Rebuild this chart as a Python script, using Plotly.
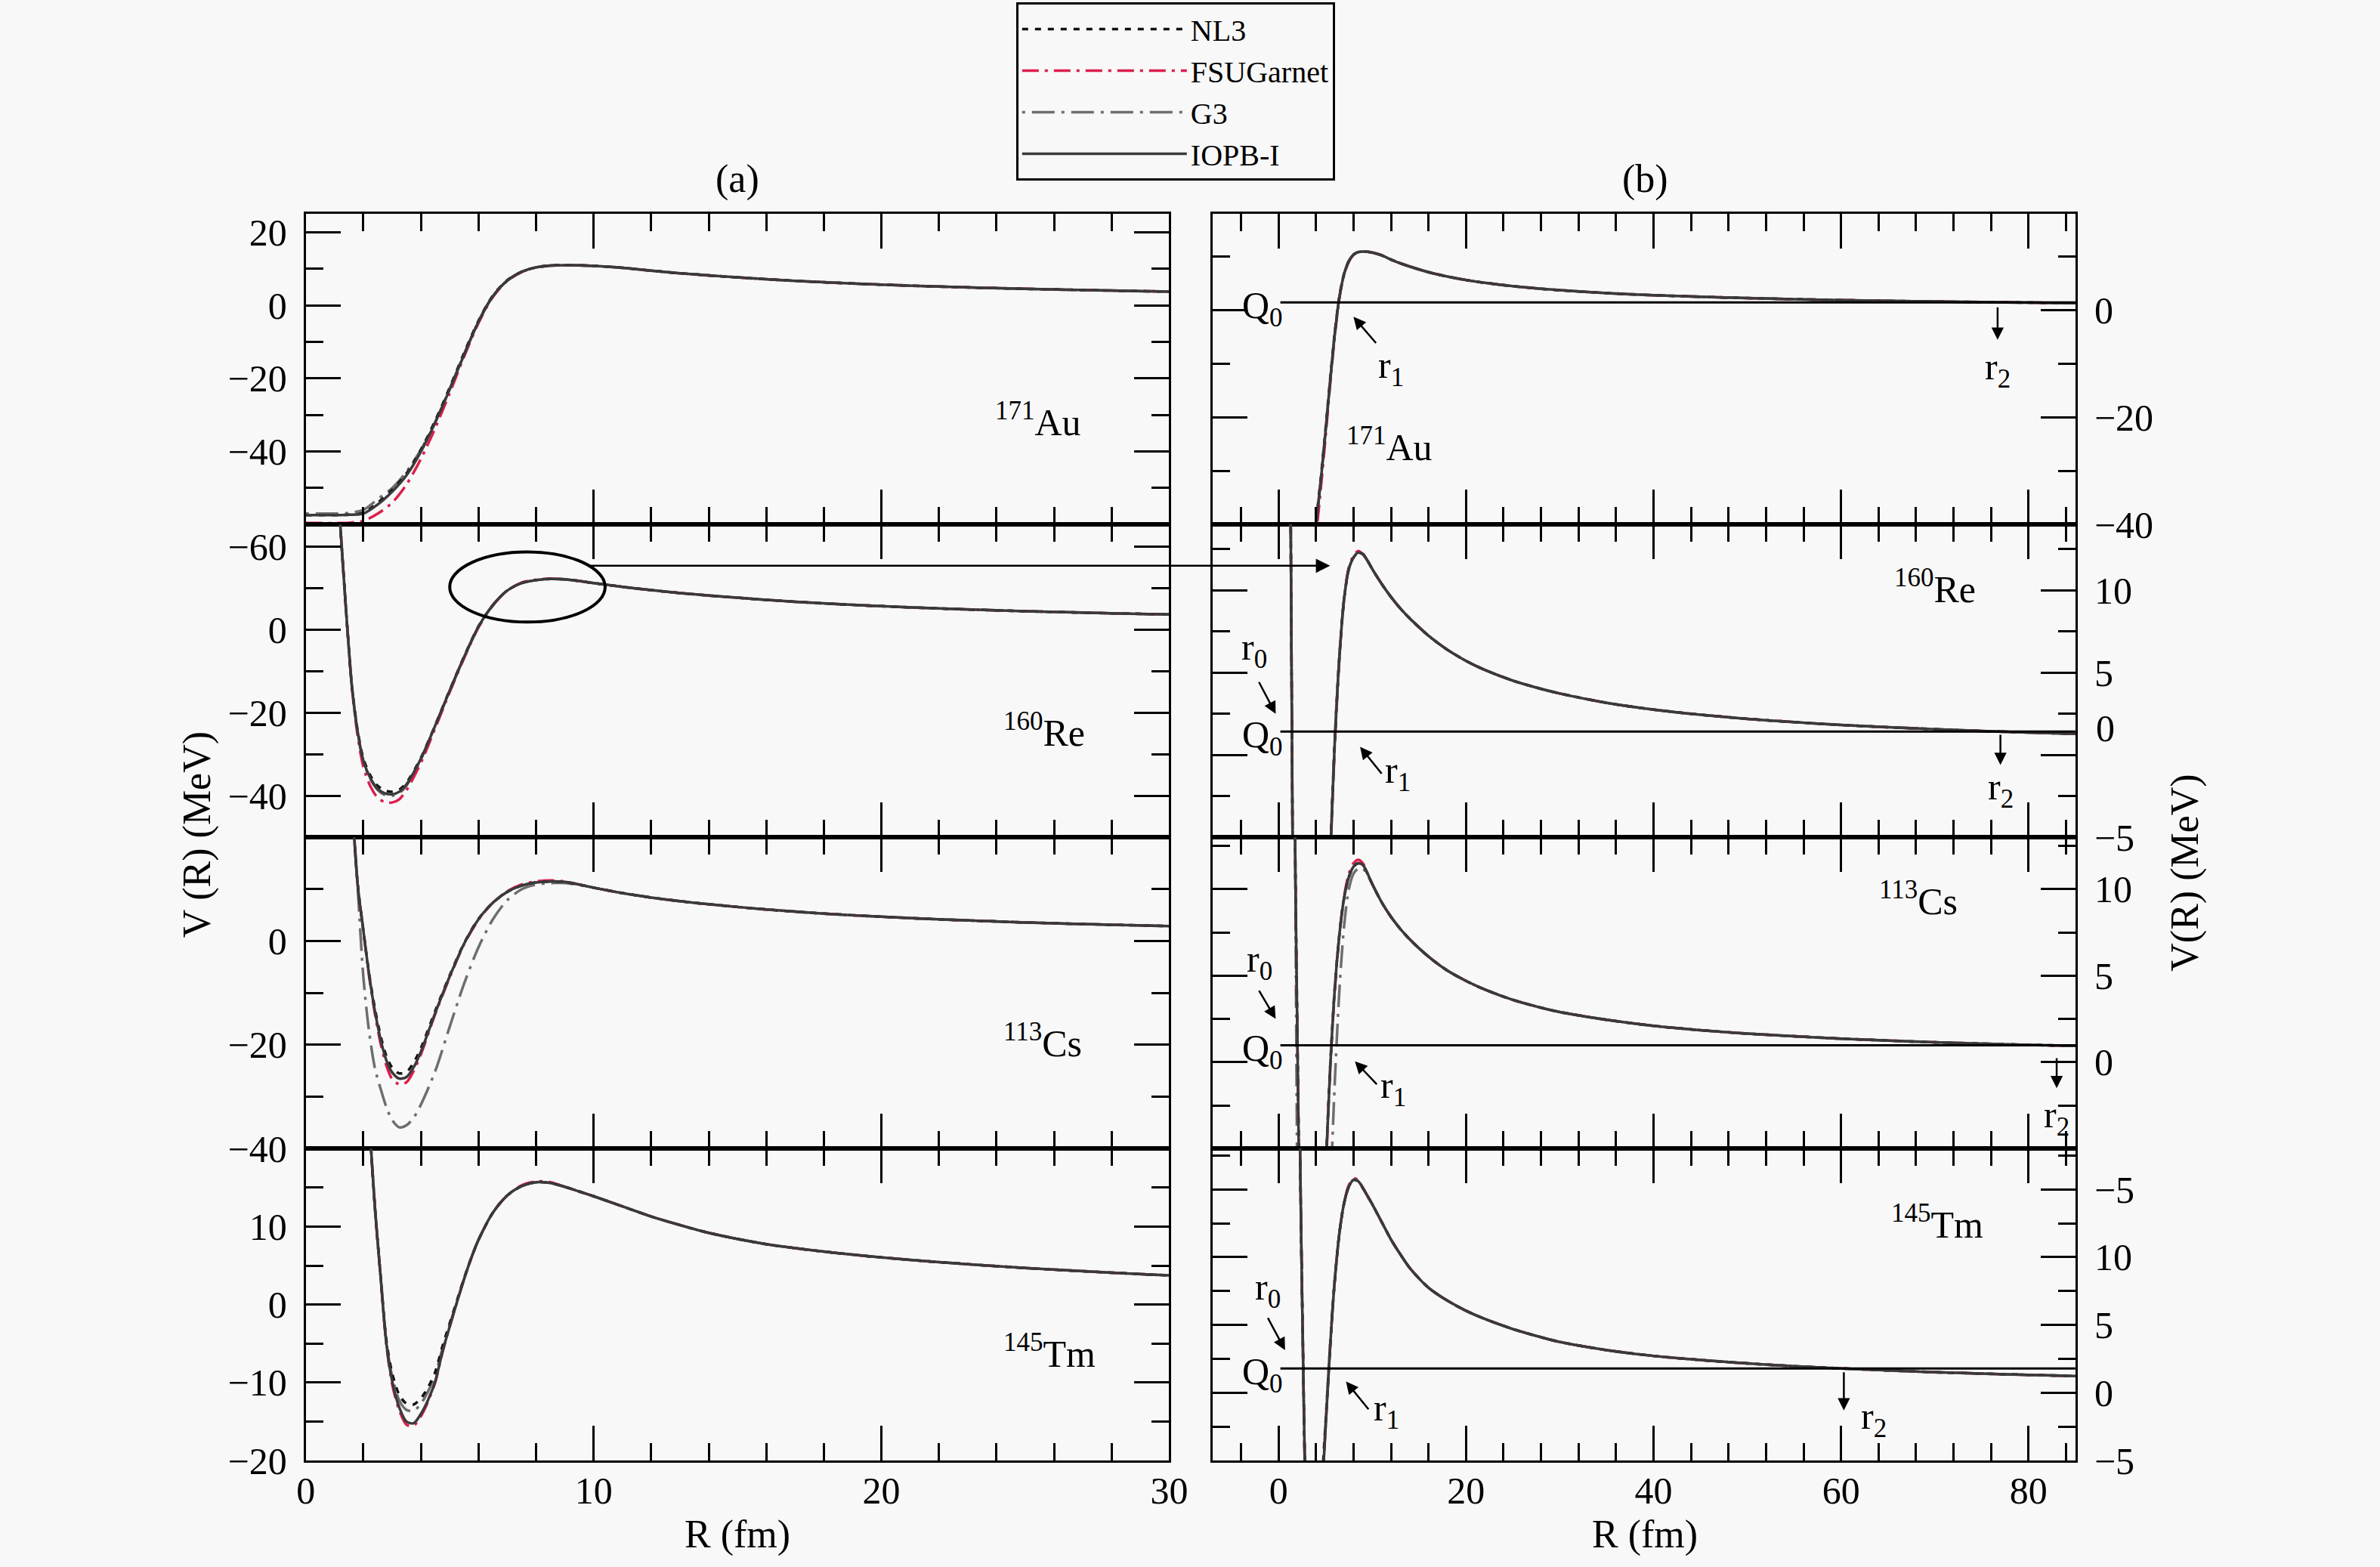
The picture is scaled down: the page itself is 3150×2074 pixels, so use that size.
import plotly.graph_objects as go

# ---------------- data ----------------
MODELS = ["NL3", "FSUGarnet", "G3", "IOPB-I"]
NUCLEUS_LABELS = ["<sup>171</sup>Au", "<sup>160</sup>Re", "<sup>113</sup>Cs", "<sup>145</sup>Tm"]

R_TAIL = [10, 11, 12, 13, 14, 16, 18, 20, 22, 25, 28, 30, 35, 40, 45, 50, 55, 60, 65, 70, 75, 80, 85]
AU_TAIL = [10.8, 10.3, 9.5, 8.8, 8.2, 7.15, 6.33, 5.68, 5.15, 4.53, 4.05, 3.78, 3.24, 2.84, 2.55, 2.3, 2.1, 1.92, 1.78, 1.66, 1.55, 1.46, 1.37]
RE_TAIL = [11.3, 10.4, 9.6, 8.9, 8.3, 7.25, 6.4, 5.72, 5.17, 4.52, 4.02, 3.74, 3.17, 2.76, 2.45, 2.2, 2.0, 1.83, 1.69, 1.57, 1.46, 1.37, 1.29]
CS_TAIL = [10.3, 9.25, 8.4, 7.7, 7.1, 6.1, 5.3, 4.7, 4.2, 3.6, 3.15, 2.9, 2.45, 2.1, 1.85, 1.65, 1.5, 1.36, 1.25, 1.15, 1.07, 1.0, 0.94]
TM_TAIL = [13.9, 12.6, 11.3, 10.2, 9.2, 7.75, 6.8, 6.05, 5.45, 4.7, 4.1, 3.75, 3.15, 2.72, 2.42, 2.17, 1.96, 1.8, 1.65, 1.52, 1.42, 1.32, 1.24]

AU_R = [0, 0.5, 1.0, 1.5, 2.0, 2.5, 3.0, 3.5, 4.0, 4.5, 5.0, 5.5, 6.0, 6.5, 7.0, 7.5, 8.0, 8.5, 9.0, 9.5]
AU_NL3 = [-57.4, -57.4, -57.4, -57.3, -56.8, -54.0, -50.5, -46.0, -39.5, -31.5, -22.5, -13.0, -4.2, 2.7, 6.9, 9.2, 10.4, 10.9, 11.0, 10.95]
AU_FSU = [-59.6, -59.6, -59.6, -59.5, -59.0, -57.0, -54.0, -49.0, -42.0, -33.5, -24.0, -14.0, -4.8, 2.3, 6.7, 9.1, 10.4, 10.9, 11.0, 10.95]
AU_G3 = [-57.0, -57.0, -57.0, -56.8, -56.0, -53.0, -50.0, -45.5, -39.5, -31.8, -22.8, -13.3, -4.3, 2.6, 6.8, 9.2, 10.4, 10.9, 11.0, 10.95]
AU_IOPB = [-57.4, -57.4, -57.4, -57.3, -57.0, -54.5, -51.0, -46.5, -40.0, -32.0, -23.0, -13.5, -4.5, 2.5, 6.8, 9.2, 10.4, 10.9, 11.0, 10.95]

RE_R = [0.8, 1.0, 1.2, 1.3, 1.4, 1.5, 1.6, 1.8, 2.0, 2.25, 2.5, 2.75, 3.0, 3.25, 3.5, 4.0, 4.5, 5.0, 5.5, 6.0, 6.5, 7.0, 7.5, 8.0, 8.5, 9.0, 9.5]
RE_NL3 = [70, 48, 25, 14.5, 4.5, -5.0, -13.5, -24.3, -31.0, -35.2, -37.6, -38.7, -39.0, -38.5, -36.8, -30.8, -22.9, -14.5, -6.4, 0.9, 6.0, 9.5, 11.3, 12.0, 12.3, 12.2, 11.8]
RE_FSU = [70, 48, 25, 14.5, 4.5, -5.0, -13.8, -25.5, -33.0, -37.8, -40.5, -41.5, -41.6, -40.8, -38.6, -32.0, -23.6, -15.0, -6.8, 0.6, 5.9, 9.5, 11.4, 12.1, 12.4, 12.2, 11.8]
RE_G3 = [70, 48, 25, 14.5, 4.5, -5.0, -13.6, -24.8, -31.8, -36.0, -38.6, -39.8, -40.0, -39.3, -37.5, -31.2, -23.1, -14.7, -6.6, 0.7, 6.0, 9.5, 11.3, 12.0, 12.3, 12.2, 11.8]
RE_IOPB = [70, 48, 25, 14.5, 4.5, -5.0, -13.5, -24.5, -31.5, -35.8, -38.3, -39.4, -39.6, -39.0, -37.2, -31.0, -23.0, -14.6, -6.5, 0.8, 6.0, 9.5, 11.3, 12.0, 12.3, 12.2, 11.8]

CS_R = [1.2, 1.4, 1.6, 1.8, 2.0, 2.2, 2.4, 2.6, 2.8, 3.0, 3.25, 3.5, 3.75, 4.0, 4.5, 5.0, 5.5, 6.0, 6.5, 7.0, 7.5, 8.0, 8.5, 9.0, 9.5]
CS_NL3 = [80, 55, 28, 11.0, 2.0, -6.3, -13.0, -18.3, -22.2, -24.4, -25.5, -25.2, -23.4, -20.6, -13.4, -6.6, -0.4, 4.3, 7.4, 9.5, 10.7, 11.3, 11.5, 11.4, 10.9]
CS_FSU = [80, 55, 28, 11.0, 2.0, -6.8, -14.0, -19.8, -24.0, -26.6, -27.6, -27.2, -25.0, -21.8, -14.0, -7.0, -0.6, 4.1, 7.4, 9.6, 10.9, 11.5, 11.7, 11.5, 10.9]
CS_G3 = [80, 55, 28, 10.5, -7.0, -17.5, -24.5, -28.5, -32.0, -34.5, -35.9, -35.5, -34.0, -31.5, -25.0, -16.5, -8.2, -1.2, 4.2, 7.9, 10.0, 10.9, 11.2, 11.2, 10.8]
CS_IOPB = [80, 55, 28, 11.0, 2.0, -6.5, -13.5, -19.0, -23.0, -25.3, -26.5, -26.2, -24.3, -21.3, -13.8, -6.8, -0.5, 4.2, 7.4, 9.5, 10.7, 11.3, 11.5, 11.4, 10.9]

TM_R = [1.8, 2.0, 2.2, 2.4, 2.6, 2.8, 3.0, 3.25, 3.5, 3.75, 4.0, 4.25, 4.5, 4.75, 5.0, 5.25, 5.5, 5.75, 6.0, 6.5, 7.0, 7.5, 8.0, 8.5, 9.0, 9.5]
TM_NL3 = [55, 38, 24, 12.5, 3.6, -4.6, -8.8, -11.6, -12.7, -12.8, -12.0, -10.6, -8.6, -5.3, -2.4, 0.5, 3.4, 6.0, 8.3, 11.8, 14.0, 15.2, 15.7, 15.6, 15.1, 14.5]
TM_FSU = [55, 38, 24, 12.5, 3.5, -5.2, -10.2, -13.6, -15.4, -15.5, -14.3, -12.4, -9.9, -6.1, -2.8, 0.3, 3.3, 6.0, 8.3, 11.8, 14.0, 15.3, 15.8, 15.7, 15.1, 14.5]
TM_G3 = [55, 38, 24, 12.5, 3.6, -4.8, -9.2, -12.3, -13.5, -13.6, -12.7, -11.1, -9.0, -5.6, -2.6, 0.4, 3.3, 6.0, 8.3, 11.8, 14.0, 15.2, 15.7, 15.6, 15.1, 14.5]
TM_IOPB = [55, 38, 24, 12.5, 3.5, -5.0, -9.8, -13.2, -15.0, -15.2, -14.0, -12.2, -9.8, -6.0, -2.8, 0.3, 3.3, 6.0, 8.3, 11.8, 14.0, 15.2, 15.7, 15.6, 15.1, 14.5]

Q_VALUES = [1.5, 1.43, 0.98, 1.8]
Q_LINE_R = [0.2, 85]

# ---------------- assembly ----------------
NUC_R = [AU_R, RE_R, CS_R, TM_R]
NUC_TAIL = [AU_TAIL, RE_TAIL, CS_TAIL, TM_TAIL]
NUC_V = [
    {"NL3": AU_NL3, "FSUGarnet": AU_FSU, "G3": AU_G3, "IOPB-I": AU_IOPB},
    {"NL3": RE_NL3, "FSUGarnet": RE_FSU, "G3": RE_G3, "IOPB-I": RE_IOPB},
    {"NL3": CS_NL3, "FSUGarnet": CS_FSU, "G3": CS_G3, "IOPB-I": CS_IOPB},
    {"NL3": TM_NL3, "FSUGarnet": TM_FSU, "G3": TM_G3, "IOPB-I": TM_IOPB},
]

FONT = "Liberation Serif"
STYLE = {
    "NL3": dict(color="#111111", dash="8px,9px", rank=1),
    "FSUGarnet": dict(color="#dc1f4b", dash="22px,8px,4px,8px", rank=2),
    "G3": dict(color="#6e6e6e", dash="4px,9px,30px,9px", rank=3),
    "IOPB-I": dict(color="#3a3a3a", dash="solid", rank=4),
}
DRAW_ORDER = ["G3", "FSUGarnet", "NL3", "IOPB-I"]

W, H = 3150, 2074
# page photographed slightly scaled: compensate positions measured on the reference
SX, OX, SY, OY = 0.990, 9.4, 0.987, 0.0


def fx(p):
    return (p - OX) / SX / W


def fy(p):
    return 1 - (p - OY) / SY / H


X_DOM = [[fx(402), fx(1547)], [fx(1605), fx(2749)]]
Y_EDGES = [281, 693, 1108, 1521, 1935]
Y_DOMS = [[fy(Y_EDGES[k + 1]), fy(Y_EDGES[k])] for k in range(4)]

fig = go.Figure()

for k in range(4):
    for side in range(2):
        ax = k + 1 + 4 * side
        for m in DRAW_ORDER:
            st = STYLE[m]
            fig.add_trace(go.Scatter(
                x=NUC_R[k] + R_TAIL,
                y=NUC_V[k][m] + NUC_TAIL[k],
                mode="lines",
                line=dict(color=st["color"], width=3.5, dash=st["dash"], shape="spline", smoothing=0.8),
                name=m, legendrank=st["rank"], legendgroup=m,
                showlegend=(k == 0 and side == 0),
                xaxis=f"x{ax}", yaxis=f"y{ax}",
                hoverinfo="skip",
            ))
    # Q0 line on right panel
    fig.add_trace(go.Scatter(
        x=Q_LINE_R, y=[Q_VALUES[k], Q_VALUES[k]], mode="lines",
        line=dict(color="black", width=3), showlegend=False,
        xaxis=f"x{k + 5}", yaxis=f"y{k + 5}", hoverinfo="skip"))

TICKFONT = dict(family=FONT, size=50, color="black")


def axis_common():
    return dict(showline=True, linecolor="black", linewidth=3, mirror="ticks",
                ticks="inside", ticklen=46, tickwidth=3, tickcolor="black",
                showgrid=False, zeroline=False, tickfont=TICKFONT)


# y-axis tick specs: (range, tickvals, ticktext, minor vals)
Y_SPECS = [
    ([-60, 25], [-40, -20, 0, 20], ["\u221240", "\u221220", "0", "20"], [-50, -30, -10, 10]),
    ([-50, 25.4], [-40, -20, 0, 20], ["\u221240", "\u221220", "0", "\u221260"], [-30, -10, 10]),
    ([-40, 20], [-40, -20, 0], ["\u221240", "\u221220", "0"], [-30, -10, 10]),
    ([-20, 20], [-20, -10, 0, 10], ["\u221220", "\u221210", "0", "10"], [-15, -5, 5, 15]),
    ([-40, 18], [-40, -20, 0], ["\u221240", "\u221220", "0"], [-30, -10, 10]),
    ([-5, 14], [-5, 0, 5, 10], ["\u22125", "", "5", "10"], [-2.5, 2.5, 7.5, 12.5]),
    ([-5, 13], [-5, 0, 5, 10], ["", "0", "5", "10"], [-2.5, 2.5, 7.5, 12.5]),
    ([-5, 18], [-5, 0, 5, 10, 15], ["\u22125", "0", "5", "10", "\u22125"], [-2.5, 2.5, 7.5, 12.5, 17.5]),
]

layout = dict(
    width=W, height=H, autosize=False,
    margin=dict(l=0, r=0, t=0, b=0),
    paper_bgcolor="#f8f8f8", plot_bgcolor="#f8f8f8",
    font=dict(family=FONT, size=50, color="black"),
    showlegend=True,
    legend=dict(x=fx(1344), y=1.0, xanchor="left", yanchor="top",
                bordercolor="black", borderwidth=3, bgcolor="rgba(0,0,0,0)",
                font=dict(family=FONT, size=40, color="black"),
                traceorder="grouped", tracegroupgap=0, itemwidth=218),
)

for i in range(8):
    ax = i + 1
    side = i // 4
    k = i % 4
    xa = axis_common()
    if side == 0:
        xa.update(range=[0, 30], tickmode="linear", tick0=0, dtick=10,
                  minor=dict(ticks="inside", ticklen=23, tickwidth=3, tickcolor="black", dtick=2, tick0=0))
    else:
        xa.update(range=[-7, 85], tickmode="array", tickvals=[0, 20, 40, 60, 80],
                  minor=dict(ticks="inside", ticklen=23, tickwidth=3, tickcolor="black", dtick=4, tick0=0))
    xa.update(domain=X_DOM[side], anchor=f"y{ax}", showticklabels=(k == 3), ticklabelstandoff=-6)
    rng, tv, tt, mv = Y_SPECS[i]
    ya = axis_common()
    ya.update(range=rng, tickmode="array", tickvals=tv, ticktext=tt,
              minor=dict(ticks="inside", ticklen=23, tickwidth=3, tickcolor="black",
                         tickmode="array", tickvals=mv),
              domain=Y_DOMS[k], anchor=f"x{ax}", side="left" if side == 0 else "right",
              ticklabelstandoff=12)
    layout["xaxis" if ax == 1 else f"xaxis{ax}"] = xa
    layout["yaxis" if ax == 1 else f"yaxis{ax}"] = ya

fig.update_layout(**layout)

ann = []


def txt(text, x, y, xref="paper", yref="paper", size=50, xanchor="center", yanchor="middle", angle=0, yshift=0):
    ann.append(dict(text=text, x=x, y=y, xref=xref, yref=yref, showarrow=False,
                    font=dict(family=FONT, size=size, color="black"),
                    xanchor=xanchor, yanchor=yanchor, textangle=angle, yshift=yshift))


def arrow(x, y, axv, ayv, ref, head=2, size=1.3, width=2.5):
    ann.append(dict(text="", x=x, y=y, ax=axv, ay=ayv, xref=f"x{ref}", yref=f"y{ref}",
                    axref=f"x{ref}", ayref=f"y{ref}", showarrow=True, arrowhead=head,
                    arrowsize=size, arrowwidth=width, arrowcolor="black"))


# panel letters and axis titles
txt("(a)", fx(974), fy(235), size=52)
txt("(b)", fx(2178), fy(235), size=52)
txt("R (fm)", fx(974), fy(2033), size=52)
txt("R (fm)", fx(2178), fy(2033), size=52)
txt("V (R) (MeV)", fx(258), fy(1105), size=52, angle=-90)
txt("V(R) (MeV)", fx(2895), fy(1155), size=52, angle=-90)
# misplaced "0" tick label of panel (b) 160Re
txt("0", fx(2774), 1.6, yref="y6", xanchor="left")

# nucleus labels
LEFT_POS = [(23.9, -31.3), (24.2, -24.2), (24.2, -19.2), (24.2, -6.0)]
RIGHT_POS = [(7.1, -25.1), (65.5, 10.25), (63.9, 9.47), (65.2, 12.56)]
for k in range(4):
    txt(NUCLEUS_LABELS[k], LEFT_POS[k][0], LEFT_POS[k][1], xref=f"x{k + 1}", yref=f"y{k + 1}", xanchor="left")
    txt(NUCLEUS_LABELS[k], RIGHT_POS[k][0], RIGHT_POS[k][1], xref=f"x{k + 5}", yref=f"y{k + 5}", xanchor="left")
    txt("Q<sub>0</sub>", 0.6, Q_VALUES[k], xref=f"x{k + 5}", yref=f"y{k + 5}", xanchor="right", yshift=-8)

# r1 arrows & labels
R1 = [((8.0, -1.2), (10.5, -6.3), (12.0, -10.8)),
      ((8.7, 0.5), (11.1, -1.2), (12.7, -1.1)),
      ((8.15, 0.05), (10.6, -1.35), (12.2, -1.5)),
      ((7.2, 0.83), (9.7, -1.3), (11.5, -1.3))]
for k, (tip, tail, labp) in enumerate(R1):
    arrow(tip[0], tip[1], tail[0], tail[1], k + 5)
    txt("r<sub>1</sub>", labp[0], labp[1], xref=f"x{k + 5}", yref=f"y{k + 5}")
# r2 arrows & labels
R2 = [((76.7, -5.5), (76.7, 0.8), (76.7, -11.0)),
      ((77.0, -0.6), (77.0, 1.3), (77.0, -2.1)),
      ((83.0, -1.5), (83.0, 0.3), (83.0, -3.2)),
      ((60.3, -1.3), (60.3, 1.6), (63.5, -1.9))]
for k, (tip, tail, labp) in enumerate(R2):
    arrow(tip[0], tip[1], tail[0], tail[1], k + 5)
    txt("r<sub>2</sub>", labp[0], labp[1], xref=f"x{k + 5}", yref=f"y{k + 5}")
# r0 arrows & labels
R0 = {6: ((-0.3, 2.5), (-2.15, 4.5), (-2.6, 6.4)),
      7: ((-0.3, 2.5), (-2.15, 4.2), (-2.0, 5.8)),
      8: ((0.7, 3.15), (-1.2, 5.6), (-1.1, 7.6))}
for ref, (tip, tail, labp) in R0.items():
    arrow(tip[0], tip[1], tail[0], tail[1], ref)
    txt("r<sub>0</sub>", labp[0], labp[1], xref=f"x{ref}", yref=f"y{ref}")

# long arrow from ellipse (a) to panel (b) 160Re
ann.append(dict(text="", x=5.5, y=11.5, xref="x6", yref="y6", axref="pixel", ayref="pixel",
                ax=-981, ay=0, showarrow=True, arrowhead=2, arrowsize=1.5, arrowwidth=2.5,
                arrowcolor="black"))

fig.update_layout(annotations=ann)
fig.add_shape(type="circle", xref="x2", yref="y2", x0=5.0, x1=10.4, y0=1.9, y1=18.8,
              line=dict(color="black", width=4))

fig.write_html("out.html", config={"displayModeBar": False},
               post_script="document.body.style.margin='0px';document.body.style.overflow='hidden';")
